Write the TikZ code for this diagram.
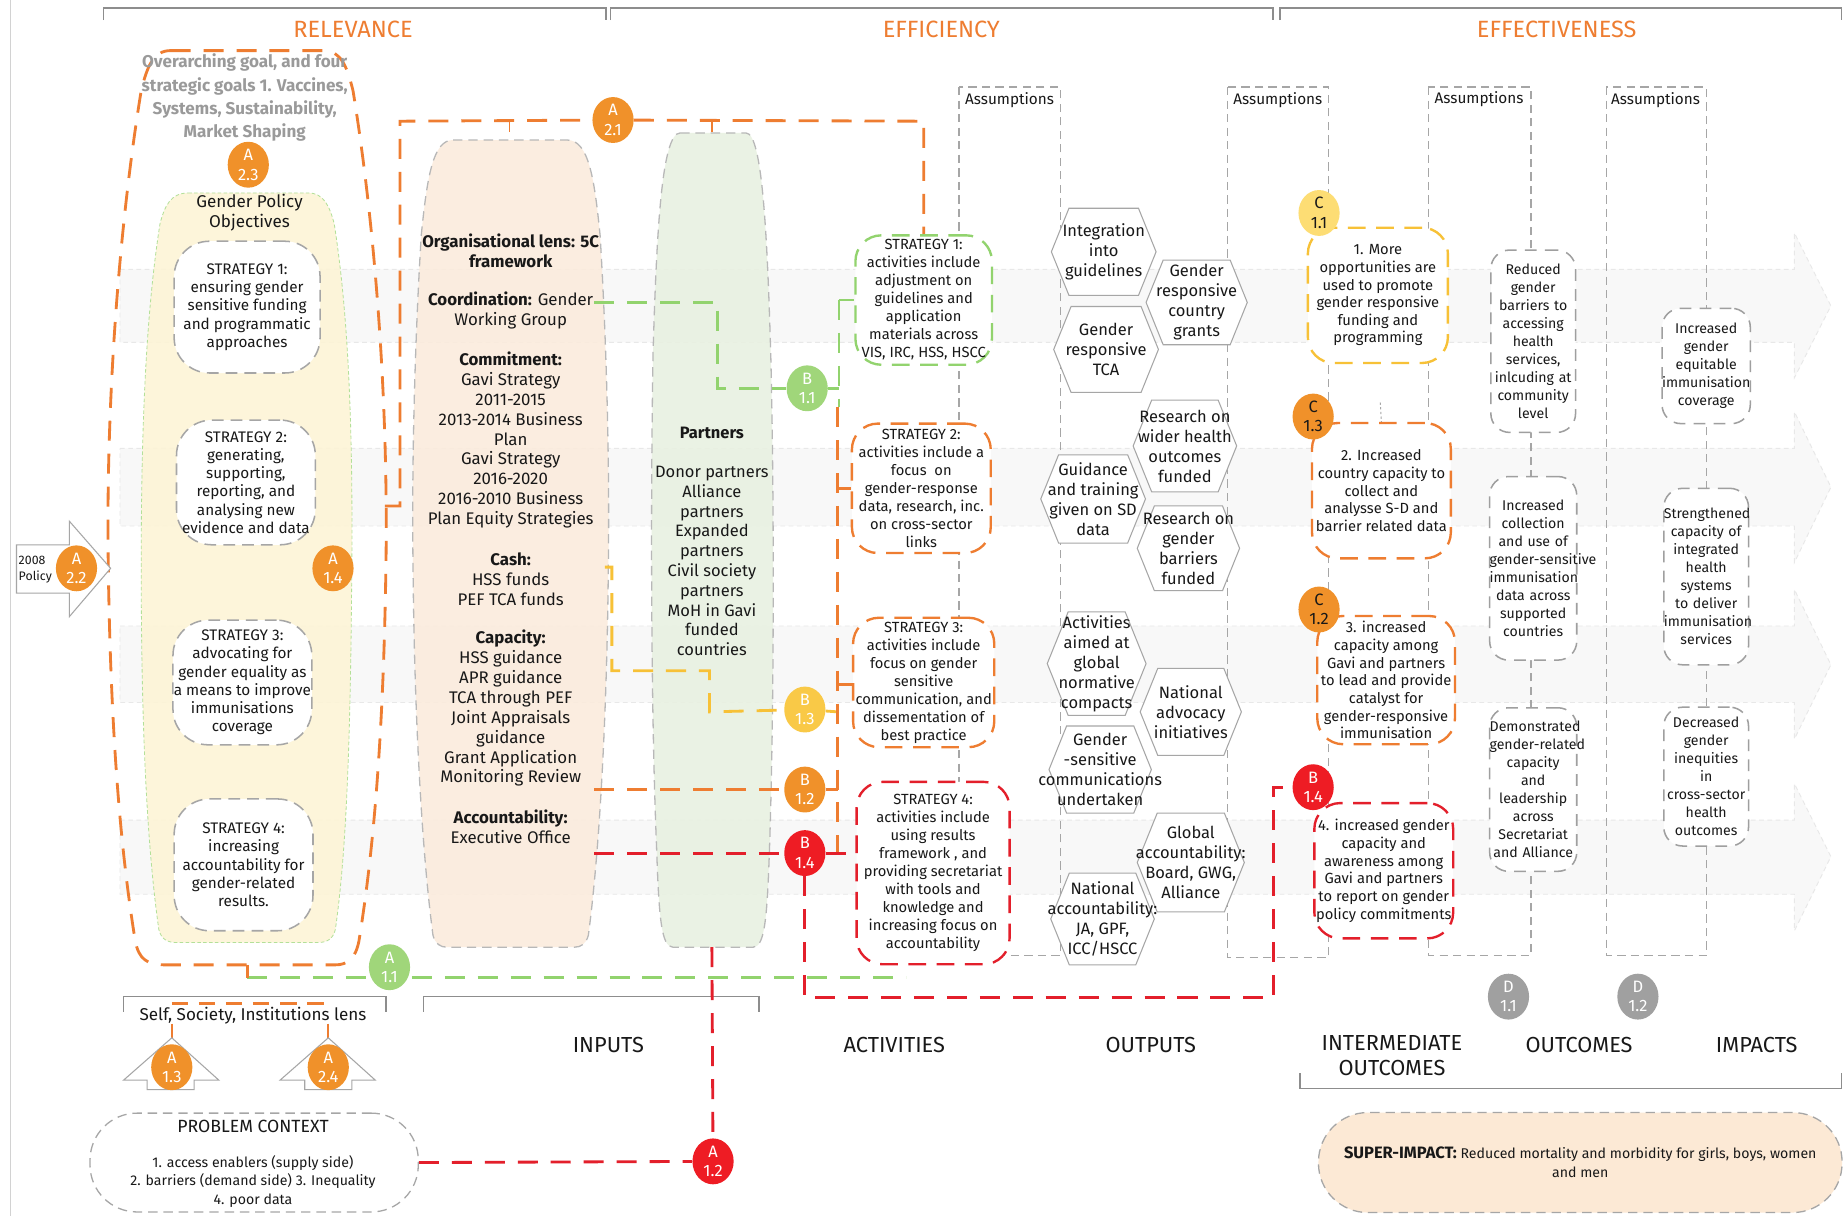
\documentclass[tikz,border=0pt]{standalone}
\usepackage{fontspec}
\setmainfont{Fira Sans}
\usetikzlibrary{shapes.geometric,shapes.symbols}
\pgfdeclarelayer{bg}
\pgfsetlayers{bg,main}
\definecolor{orA}{HTML}{EE7D31}
\definecolor{orB}{HTML}{F0912A}
\definecolor{rdA}{HTML}{E31F2B}
\definecolor{rdB}{HTML}{EE1C24}
\definecolor{grA}{HTML}{92D36E}
\definecolor{grB}{HTML}{A0D67A}
\definecolor{ylA}{HTML}{F7C137}
\definecolor{ylB}{HTML}{F9C947}
\definecolor{ylC}{HTML}{FDDD74}
\definecolor{gyA}{HTML}{A6A6A6}
\definecolor{gyT}{HTML}{9A9A9A}
\definecolor{gyD}{HTML}{A0A0A0}
\definecolor{beige}{HTML}{FBEBDC}
\definecolor{lgreen}{HTML}{E8F1E1}
\definecolor{lyellow}{HTML}{FDF4D5}
\definecolor{bandf}{HTML}{F8F8F8}
\definecolor{bandl}{HTML}{E8E8E8}
\definecolor{peach}{HTML}{FCE9D5}
\definecolor{txt}{HTML}{181818}
\begin{document}
\begin{tikzpicture}[x=1pt,y=-1pt,
  every node/.style={text=txt},
  heavyline/.style={line width=2.4pt, dash pattern=on 17pt off 11pt},
  orl/.style={draw=orA, heavyline},
  grl/.style={draw=grA, heavyline},
  yll/.style={draw=ylA, heavyline},
  rdl/.style={draw=rdA, heavyline},
  gdash/.style={draw=gyA, line width=1.1pt, dash pattern=on 7pt off 4.5pt},
  bracket/.style={draw=gyA!85!black, line width=1.3pt},
  badge/.style={ellipse, minimum width=35pt, minimum height=39pt, inner sep=0pt, align=center, text=white, font=\fontsize{14}{16.5}\selectfont},
  hexa/.style={signal, signal to=west and east, signal pointer angle=136, draw=gyA, line width=0.9pt, fill=white, inner sep=0pt, minimum width=88pt, minimum height=76pt},
  hext/.style={align=center, font=\fontsize{14}{17}\selectfont, inner sep=0pt},
  actbox/.style={rectangle, rounded corners=22pt, fill=white, line width=2pt, dash pattern=on 15pt off 9pt, align=center, font=\fontsize{12.5}{15.3}\selectfont, inner sep=0pt},
  relbox/.style={rectangle, rounded corners=30pt, fill=white, draw=gyA, line width=1.3pt, dash pattern=on 10pt off 6pt, align=center, font=\fontsize{13}{15.5}\selectfont, inner sep=0pt},
  outbox/.style={rectangle, rounded corners=16pt, fill=white, draw=gray!75, line width=1.3pt, dash pattern=on 10pt off 7pt, align=center, font=\fontsize{12}{15.3}\selectfont, inner sep=0pt},
  hdtxt/.style={font=\fontsize{20}{22}\selectfont, text=orA, inner sep=0pt},
  colhd/.style={font=\fontsize{18.5}{21}\selectfont, inner sep=0pt, align=center},
  asmp/.style={font=\fontsize{13}{15}\selectfont, inner sep=0pt},
  inptxt/.style={align=center, font=\fontsize{14.3}{16.9}\selectfont, inner sep=0pt},
  arrowsh/.style={draw=gyA, line width=0.9pt, fill=white}
]
\useasboundingbox (0,0) rectangle (1568,1033);

\begin{pgfonlayer}{bg}
\fill[white] (0,0) rectangle (1568,1033);
% bands
\path[fill=bandf, draw=bandl, line width=0.8pt, dash pattern=on 4pt off 3pt]
  (102,229) -- (1525,229) -- (1525,198) -- (1556,260) -- (1525,321) -- (1525,291) -- (102,291) -- cycle;
\path[fill=bandf, draw=bandl, line width=0.8pt, dash pattern=on 4pt off 3pt]
  (102,381) -- (1525,381) -- (1525,350) -- (1556,414) -- (1525,478) -- (1525,447) -- (102,447) -- cycle;
\path[fill=bandf, draw=bandl, line width=0.8pt, dash pattern=on 4pt off 3pt]
  (102,532) -- (1525,532) -- (1525,501) -- (1556,565) -- (1525,628) -- (1525,597) -- (102,597) -- cycle;
\path[fill=bandf, draw=bandl, line width=0.8pt, dash pattern=on 4pt off 3pt]
  (102,697) -- (1525,697) -- (1525,666) -- (1556,728) -- (1525,791) -- (1525,760) -- (102,760) -- cycle;

% yellow gender policy shape
\path[fill=lyellow, fill opacity=0.88, draw=grA!70, line width=0.7pt, dash pattern=on 3pt off 2pt]
  (160,164) -- (262,164) .. controls (275,164) and (280,175) .. (284,190)
  .. controls (295,260) and (300,350) .. (299,480) .. controls (298,620) and (295,720) .. (285,790)
  .. controls (283,798) and (278,801) .. (270,801) -- (150,801) .. controls (142,801) and (137,798) .. (135,790)
  .. controls (125,720) and (120,620) .. (120,480) .. controls (120,350) and (125,260) .. (136,190)
  .. controls (140,175) and (145,164) .. (160,164) -- cycle;
% beige inputs shape
\path[fill=beige, fill opacity=0.88, draw=gyA!80, line width=1.1pt, dash pattern=on 8pt off 5pt]
  (385,119) -- (482,119) .. controls (500,119) and (505,150) .. (510,200)
  .. controls (516,300) and (518,400) .. (517,480) .. controls (516,600) and (510,720) .. (500,795)
  .. controls (498,802) and (494,805) .. (488,805) -- (380,805) .. controls (374,805) and (370,802) .. (368,795)
  .. controls (358,720) and (352,600) .. (351,480) .. controls (350,400) and (352,300) .. (358,200)
  .. controls (363,150) and (368,119) .. (385,119) -- cycle;
% green partners shape
\path[fill=lgreen, fill opacity=0.88, draw=gyA!80, line width=1.1pt, dash pattern=on 8pt off 5pt]
  (578,113) -- (634,113) .. controls (648,113) and (652,200) .. (655,300)
  .. controls (658,420) and (658,600) .. (654,720) .. controls (652,780) and (650,805) .. (640,805)
  -- (572,805) .. controls (562,805) and (560,780) .. (558,720)
  .. controls (553,600) and (553,420) .. (555,300) .. controls (558,200) and (562,113) .. (578,113) -- cycle;

% left border line and brackets
\draw[gray!35, line width=1pt] (9,0) -- (9,1033);
\draw[bracket] (88,17) -- (88,7) -- (515,7) -- (515,17);
\draw[bracket] (519,17) -- (519,7) -- (1082,7) -- (1082,17);
\draw[bracket] (1088,17) -- (1088,7) -- (1565,7) -- (1565,17);
\draw[bracket] (105,860) -- (105,847) -- (328,847) -- (328,860);
\draw[bracket] (360,860) -- (360,847) -- (645,847) -- (645,860);
\draw[bracket] (1105,912) -- (1105,925) -- (1565,925) -- (1565,912);

% assumption boxes
\draw[gdash] (815,74) rectangle (901,812);
\draw[gdash] (1043,74) rectangle (1129,814);
\draw[gdash] (1214,74) rectangle (1301,812);
\draw[gdash] (1365,74) rectangle (1450,812);

% relevance outer shape
\draw[orl]
  (145,43) -- (275,43) .. controls (290,43) and (295,57) .. (300,77)
  .. controls (320,200) and (330,350) .. (328,480) .. controls (326,620) and (318,720) .. (305,800)
  .. controls (302,815) and (295,820) .. (285,820) -- (140,820) .. controls (125,820) and (118,815) .. (115,800)
  .. controls (102,720) and (94,620) .. (92,480) .. controls (90,350) and (100,200) .. (120,77)
  .. controls (125,57) and (130,43) .. (145,43) -- cycle;
\end{pgfonlayer}

% headings
\node[hdtxt] (hrel) at (300,25) {RELEVANCE};
\node[hdtxt] (heff) at (800,25) {EFFICIENCY};
\node[hdtxt] (hefv) at (1323,25) {EFFECTIVENESS};

% relevance
\node[align=center, inner sep=0pt, text=gyT, font=\bfseries\fontsize{14.5}{19.7}\selectfont] (ov) at (208,83)
  {Overarching goal, and four\\strategic goals 1. Vaccines,\\Systems, Sustainability,\\Market Shaping};
\node[align=center, inner sep=0pt, font=\fontsize{14.5}{17}\selectfont] (gpo) at (212,181) {Gender Policy\\Objectives};
\node[relbox, minimum width=124pt, minimum height=112pt] (rs1) at (210,261)
  {STRATEGY 1:\\ensuring gender\\sensitive funding\\and programmatic\\approaches};
\node[relbox, minimum width=118pt, minimum height=106pt] (rs2) at (209,410)
  {STRATEGY 2:\\generating,\\supporting,\\reporting, and\\analysing new\\evidence and data};
\node[relbox, minimum width=118pt, minimum height=106pt] (rs3) at (206,580)
  {STRATEGY 3:\\advocating for\\gender equality as\\a means to improve\\immunisations\\coverage};
\node[relbox, minimum width=118pt, minimum height=112pt] (rs4) at (207,735)
  {STRATEGY 4:\\increasing\\accountability for\\gender-related\\results.};

% 2008 policy arrow
\path[arrowsh] (14,463) -- (59,463) -- (59,443) -- (94,483) -- (59,524) -- (59,504) -- (14,504) -- cycle;
\node[align=left, inner sep=0pt, font=\fontsize{10.5}{13}\selectfont] (pol) at (30,484) {2008\\Policy};

% self society
\node[inner sep=0pt, font=\fontsize{14.5}{17}\selectfont] (ssi) at (215,863) {Self, Society, Institutions lens};
\path[arrowsh] (146,882) -- (186,918) -- (165,918) -- (165,926) -- (125,926) -- (125,918) -- (105,918) -- cycle;
\path[arrowsh] (279,882) -- (319,918) -- (299,918) -- (299,926) -- (259,926) -- (259,918) -- (238,918) -- cycle;

% problem context
\node[draw=gyA, line width=1.1pt, dash pattern=on 8pt off 5pt, rounded corners=40pt, minimum width=279pt, minimum height=84pt, inner sep=0pt] (pc) at (216,988) {};
\node[inner sep=0pt, font=\fontsize{15}{17}\selectfont] (pct) at (215,957) {PROBLEM CONTEXT};
\node[align=center, inner sep=0pt, font=\fontsize{12}{16}\selectfont] (pcb) at (215,1004)
  {1. access enablers (supply side)\\2. barriers (demand side) 3. Inequality\\4. poor data};

% inputs text
\node[inptxt, font=\bfseries\fontsize{14.3}{16.9}\selectfont] (inpA) at (434,213) {Organisational lens: 5C\\framework};
\node[inptxt] (inpB) at (434,264) {\textbf{Coordination:} Gender\\Working Group};
\node[inptxt] (inpC) at (434,374) {\textbf{Commitment:}\\Gavi Strategy\\2011-2015\\2013-2014 Business\\Plan\\Gavi Strategy\\2016-2020\\2016-2010 Business\\Plan Equity Strategies};
\node[inptxt] (inpD) at (434,492) {\textbf{Cash:}\\HSS funds\\PEF TCA funds};
\node[inptxt] (inpE) at (434,602) {\textbf{Capacity:}\\HSS guidance\\APR guidance\\TCA through PEF\\Joint Appraisals\\guidance\\Grant Application\\Monitoring Review};
\node[inptxt] (inpF) at (434,703) {\textbf{Accountability:}\\Executive Office};

% partners
\node[align=center, inner sep=0pt, font=\fontsize{14}{16.8}\selectfont] (prt) at (605,460)
  {\textbf{Partners}\\[16.8pt]Donor partners\\Alliance\\partners\\Expanded\\partners\\Civil society\\partners\\MoH in Gavi\\funded\\countries};

% assumptions labels
\node[asmp] (as1l) at (858,85) {Assumptions};
\node[asmp] (as2l) at (1086,85) {Assumptions};
\node[asmp] (as3l) at (1257,84) {Assumptions};
\node[asmp] (as4l) at (1407,85) {Assumptions};

% activities
\node[actbox, draw=grA, minimum width=116pt, minimum height=110pt] (as1) at (785,255)
  {STRATEGY 1:\\activities include\\adjustment on\\guidelines and\\application\\materials across\\VIS, IRC, HSS, HSCC};
\node[actbox, draw=orA, minimum width=118pt, minimum height=110pt] (as2) at (783,415)
  {STRATEGY 2:\\activities include a\\focus\ \ on\\gender-response\\data, research, inc.\\on cross-sector\\links};
\node[actbox, draw=orA, minimum width=120pt, minimum height=110pt] (as3) at (785,580)
  {STRATEGY 3:\\activities include\\focus on gender\\sensitive\\communication, and\\dissementation of\\best practice};
\node[actbox, draw=rdA, minimum width=130pt, minimum height=155pt] (as4) at (793,742)
  {STRATEGY 4:\\activities include\\using results\\framework , and\\providing secretariat\\with tools and\\knowledge and\\increasing focus on\\accountability};

% outputs hexagons
\node[hexa, minimum width=89pt, minimum height=74pt] (hx1) at (938,214) {};
\node[hext] (hx1t) at (hx1) {Integration\\into\\guidelines};
\node[hexa, minimum width=86pt, minimum height=72pt] (hx2) at (1017,257) {};
\node[hext] (hx2t) at (hx2) {Gender\\responsive\\country\\grants};
\node[hexa, minimum width=89pt, minimum height=73pt] (hx3) at (940,297) {};
\node[hext] (hx3t) at (hx3) {Gender\\responsive\\TCA};
\node[hexa, minimum width=88pt, minimum height=78pt] (hx4) at (1007,379) {};
\node[hext] (hx4t) at (hx4) {Research on\\wider health\\outcomes\\funded};
\node[hexa, minimum width=89pt, minimum height=75pt] (hx5) at (929,424) {};
\node[hext] (hx5t) at (hx5) {Guidance\\and training\\given on SD\\data};
\node[hexa, minimum width=87pt, minimum height=72pt] (hx6) at (1010,466) {};
\node[hext] (hx6t) at (hx6) {Research on\\gender\\barriers\\funded};
\node[hexa, minimum width=84pt, minimum height=88pt] (hx7) at (932,564) {};
\node[hext] (hx7t) at (hx7) {Activities\\aimed at\\global\\normative\\compacts};
\node[hexa, minimum width=86pt, minimum height=74pt] (hx8) at (1012,605) {};
\node[hext] (hx8t) at (hx8) {National\\advocacy\\initiatives};
\node[hexa, minimum width=87pt, minimum height=74pt] (hx9) at (935,654) {};
\node[hext] (hx9t) at (hx9) {Gender\\-sensitive\\communications\\undertaken};
\node[hexa, minimum width=91pt, minimum height=84pt] (hx10) at (1012,733) {};
\node[hext] (hx10t) at (hx10) {Global\\accountability:\\Board, GWG,\\Alliance};
\node[hexa, minimum width=88pt, minimum height=78pt] (hx11) at (937,781) {};
\node[hext] (hx11t) at (hx11) {National\\accountability:\\JA, GPF,\\ICC/HSCC};

% intermediate outcomes
\node[actbox, draw=ylA, minimum width=119pt, minimum height=115pt, font=\fontsize{12.5}{15}\selectfont] (ib1) at (1171,251)
  {1. More\\opportunities are\\used to promote\\gender responsive\\funding and\\programming};
\node[actbox, draw=orA, minimum width=118pt, minimum height=115pt, font=\fontsize{12.5}{15}\selectfont] (ib2) at (1174,417)
  {2. Increased\\country capacity to\\collect and\\analysse S-D and\\barrier related data};
\node[actbox, draw=orA, minimum width=117pt, minimum height=109pt, font=\fontsize{12.5}{15}\selectfont] (ib3) at (1178,578)
  {3. increased\\capacity among\\Gavi and partners\\to lead and provide\\catalyst for\\gender-responsive\\immunisation};
\node[actbox, draw=rdA, minimum width=118pt, minimum height=115pt, font=\fontsize{12.5}{15}\selectfont] (ib4) at (1176,740)
  {4. increased gender\\capacity and\\awareness among\\Gavi and partners\\to report on gender\\policy commitments};

% outcomes
\node[outbox, text width=72pt, minimum height=155pt] (ob1) at (1303,290)
  {Reduced\\gender\\barriers to\\accessing\\health\\services,\\inlcuding at\\community\\level};
\node[outbox, text width=74pt, minimum height=156pt] (ob2) at (1303,483)
  {Increased\\collection\\and use of\\\mbox{gender-sensitive}\\immunisation\\data across\\supported\\countries};
\node[outbox, text width=74pt, minimum height=139pt] (ob3) at (1303,671)
  {Demonstrated\\\mbox{gender-related}\\capacity\\and\\leadership\\across\\Secretariat\\and Alliance};

% impacts
\node[outbox, text width=75pt, minimum height=98pt] (im1) at (1450,311)
  {Increased\\gender\\equitable\\immunisation\\coverage};
\node[outbox, text width=72pt, minimum height=150pt] (im2) at (1450,490)
  {Strengthened\\capacity of\\integrated\\health\\systems\\to deliver\\immunisation\\services};
\node[outbox, text width=72pt, minimum height=118pt] (im3) at (1450,660)
  {Decreased\\gender\\inequities\\in\\cross-sector\\health\\outcomes};

% super impact
\node[fill=peach, draw=gyA, line width=1.1pt, dash pattern=on 8pt off 5pt, rounded corners=42pt, minimum width=445pt, minimum height=85pt, inner sep=0pt, align=center, font=\fontsize{12}{16}\selectfont] (sup) at (1343,988)
  {{\bfseries\fontsize{14}{16}\selectfont SUPER-IMPACT:} Reduced mortality and morbidity for girls, boys, women\\and men};

% column headings
\node[colhd] (cIn) at (517,888) {INPUTS};
\node[colhd] (cAc) at (760,888) {ACTIVITIES};
\node[colhd] (cOu) at (978,888) {OUTPUTS};
\node[colhd] (cIO) at (1183,897) {INTERMEDIATE\\OUTCOMES};
\node[colhd] (cOc) at (1342,888) {OUTCOMES};
\node[colhd] (cIm) at (1493,888) {IMPACTS};

% badges
\node[badge, fill=orB] (a23) at (211,140) {A\\2.3};
\node[badge, fill=orB] (a22) at (65,483) {A\\2.2};
\node[badge, fill=orB] (a14) at (283,483) {A\\1.4};
\node[badge, fill=orB] (a21) at (521,102) {A\\2.1};
\node[badge, fill=grB] (a11) at (331,822) {A\\1.1};
\node[badge, fill=orB] (a13) at (146,907) {A\\1.3};
\node[badge, fill=orB] (a24) at (279,907) {A\\2.4};
\node[badge, fill=rdB] (a12) at (606,987) {A\\1.2};
\node[badge, fill=grB] (b11) at (686,330) {B\\1.1};
\node[badge, fill=ylB] (b13) at (684,603) {B\\1.3};
\node[badge, fill=orB] (b12) at (684,671) {B\\1.2};
\node[badge, fill=rdB] (b14a) at (684,725) {B\\1.4};
\node[badge, fill=ylC, text=txt] (c11) at (1121,181) {C\\1.1};
\node[badge, fill=orB, text=txt] (c13) at (1116,354) {C\\1.3};
\node[badge, fill=orB, text=txt] (c12) at (1121,518) {C\\1.2};
\node[badge, fill=rdB] (b14b) at (1116,669) {B\\1.4};
\node[badge, fill=gyD] (d11) at (1282,847) {D\\1.1};
\node[badge, fill=gyD] (d12) at (1392,847) {D\\1.2};

% connector coordinates
\coordinate (relR) at (327,430);
\coordinate (k21a) at (340,430);
\coordinate (k21b) at (340,103);
\coordinate (k21c) at (785,103);
\coordinate (t1a) at (433,103); \coordinate (t1b) at (433,112);
\coordinate (t2a) at (605,103); \coordinate (t2b) at (605,112);
\coordinate (kg0) at (505,257);
\coordinate (kg1) at (610,257);
\coordinate (kg2) at (610,330);
\coordinate (kg3) at (713,330);
\coordinate (kg4) at (713,255);
\coordinate (kg5) at (713,346);
\coordinate (ky0) at (514,482);
\coordinate (ky1) at (520,482);
\coordinate (ky2) at (520,570);
\coordinate (ky3) at (603,570);
\coordinate (ky4) at (603,605);
\coordinate (ky5) at (712,605);
\coordinate (ko0) at (505,671);
\coordinate (ko1) at (712,671);
\coordinate (ko2) at (712,346);
\coordinate (ko3) at (712,735);
\coordinate (ko4) at (712,415);
\coordinate (ko5) at (712,582);
\coordinate (kr0) at (505,725);
\coordinate (kr1) at (728,725);
\coordinate (kr2) at (684,848);
\coordinate (kr3) at (1082,848);
\coordinate (kr4) at (1082,669);
\coordinate (prtB) at (605,805);
\coordinate (kgA) at (210,831);
\coordinate (kgB) at (770,831);
\coordinate (relB) at (210,820);
\coordinate (ko6) at (146,853);
\coordinate (ko7) at (279,853);
\coordinate (ko8) at (146,870);
\coordinate (ko9) at (279,870);
\coordinate (tk1) at (1173,342);

\begin{pgfonlayer}{bg}
\draw[orl] (relR) -- (k21a) -- (k21b) -- (a21) -- (k21c) -- (as1.north);
\draw[orA, line width=1.6pt] (t1a) -- (t1b);
\draw[orA, line width=1.6pt] (t2a) -- (t2b);
\draw[grl] (kg0) -- (kg1) -- (kg2) -- (b11);
\draw[grl] (b11) -- (kg3);
\draw[grl] (kg4) -- (kg5);
\draw[grl] (kg4) -- (as1.west |- kg4);
\draw[yll] (ky0) -- (ky1) -- (ky2) -- (ky3) -- (ky4) -- (b13);
\draw[yll] (b13) -- (ky5);
\draw[orl] (ko0) -- (b12);
\draw[orl] (b12) -- (ko1);
\draw[orl] (ko2) -- (ko3);
\draw[orl] (ko4) -- (as2.west |- ko4);
\draw[orl] (ko5) -- (as3.west |- ko5);
\draw[rdl] (kr0) -- (b14a);
\draw[rdl] (b14a) -- (kr1);
\draw[rdl] (b14a) -- (kr2) -- (kr3) -- (kr4) -- (b14b);
\draw[rdl] (prtB) -- (a12);
\draw[rdl] (pc.east) -- (a12);
\draw[grl] (kgA) -- (kgB);
\draw[orA, line width=2.4pt] (relB) -- (kgA);
\draw[orA, line width=2.2pt, dash pattern=on 14pt off 9pt] (ko6) -- (ko7);
\draw[orA, line width=2pt] (ko8) -- (a13.north);
\draw[orA, line width=2pt] (ko9) -- (a24.north);
\draw[gyA, line width=0.8pt, dash pattern=on 2pt off 2pt] (tk1) -- (ib2.north);
\end{pgfonlayer}
\end{tikzpicture}
\end{document}
